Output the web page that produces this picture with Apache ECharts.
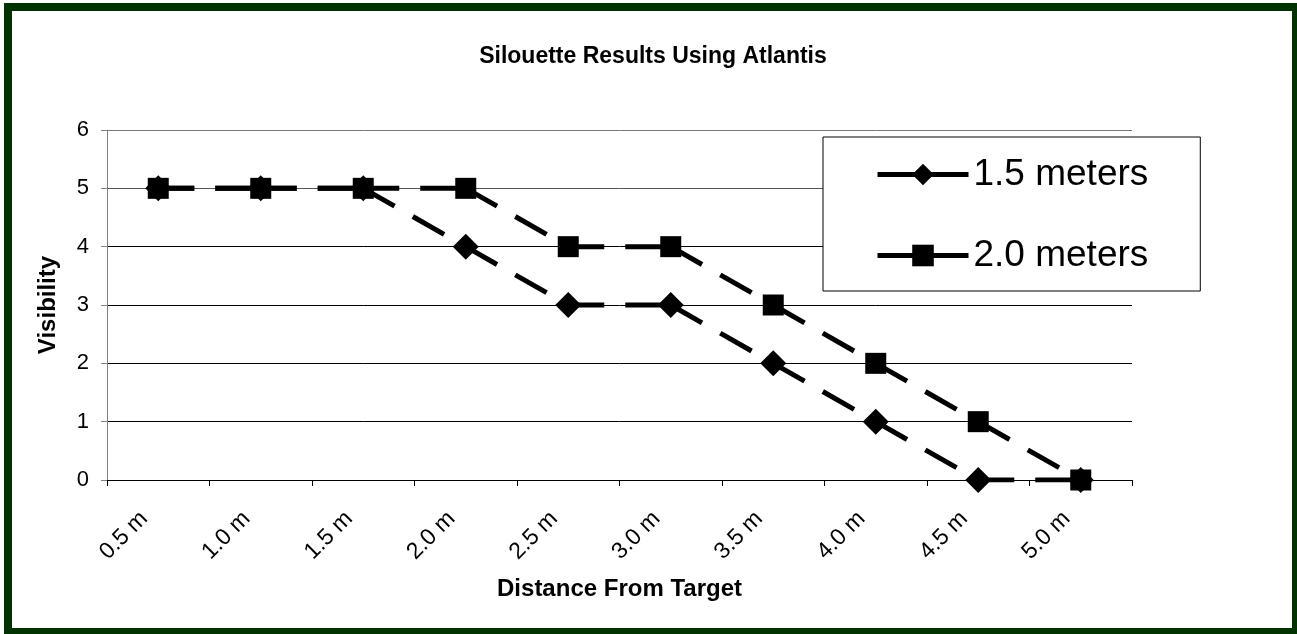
<!DOCTYPE html>
<html>
<head>
<meta charset="utf-8">
<script src="https://cdn.jsdelivr.net/npm/echarts@6/dist/echarts.min.js"></script>
<style>
  html, body { margin: 0; padding: 0; background: #fff; }
  #chart { position: absolute; left: 0; top: 0; width: 1297px; height: 634px; }
  #frame {
    position: absolute; left: 4px; top: 3px; width: 1293px; height: 631px;
    box-sizing: border-box; pointer-events: none;
    border-style: solid; border-color: #003300;
    border-width: 8px 5px 6px 8px;
  }
</style>
</head>
<body>
<div id="chart"></div>
<div id="frame"></div>
<script>
// Distances from target (category axis)
const distances = ['0.5 m', '1.0 m', '1.5 m', '2.0 m', '2.5 m', '3.0 m', '3.5 m', '4.0 m', '4.5 m', '5.0 m'];
// Visibility scores for each silhouette height
const visibility15 = [5, 5, 5, 4, 3, 3, 2, 1, 0, 0];
const visibility20 = [5, 5, 5, 5, 4, 4, 3, 2, 1, 0];
const seriesNames = ['1.5 meters', '2.0 meters'];
const seriesSymbols = ['diamond', 'rect'];
const seriesSymbolSizes = [26, 21];

const FONT = 'Liberation Sans, Arial, sans-serif';

// Each line segment is its own series so the dash pattern restarts at every point.
function segmentSeries(values, tag) {
  const out = [];
  for (let i = 0; i < values.length - 1; i++) {
    const data = values.map((v, j) => (j === i || j === i + 1) ? v : null);
    out.push({
      type: 'line',
      name: tag + '-seg' + i,
      data: data,
      symbol: 'none',
      connectNulls: false,
      silent: true,
      z: 2,
      lineStyle: { color: '#000', width: 5, type: [36, 21], cap: 'butt' }
    });
  }
  return out;
}

function markerSeries(values, idx) {
  return {
    type: 'line',
    name: seriesNames[idx],
    data: values,
    symbol: seriesSymbols[idx],
    symbolSize: seriesSymbolSizes[idx],
    z: 3,
    itemStyle: { color: '#000', borderWidth: 0 },
    lineStyle: { color: '#000', width: 5, opacity: 0 }
  };
}

const chart = echarts.init(document.getElementById('chart'), null, { renderer: 'canvas' });

chart.setOption({
  animation: false,
  backgroundColor: '#fff',
  title: {
    text: 'Silouette Results Using Atlantis',
    left: 653,
    top: 45,
    padding: 0,
    textAlign: 'center',
    textStyle: { fontFamily: FONT, fontWeight: 'bold', fontSize: 23, color: '#000' }
  },
  legend: {
    orient: 'vertical',
    left: 823,
    top: 137,
    data: seriesNames,
    itemWidth: 91,
    itemHeight: 27,
    itemGap: 44,
    padding: [19, 52, 17, 52],
    borderColor: '#000',
    borderWidth: 1,
    backgroundColor: '#fff',
    selectedMode: false,
    lineStyle: { opacity: 1, width: 5, type: 'solid', color: '#000' },
    textStyle: { fontFamily: FONT, fontSize: 37, lineHeight: 37, color: '#000' }
  },
  grid: { left: 107, top: 130, width: 1025, height: 350, containLabel: false },
  xAxis: {
    type: 'category',
    data: distances,
    boundaryGap: true,
    name: 'Distance From Target',
    nameLocation: 'middle',
    nameGap: 97,
    nameTextStyle: { fontFamily: FONT, fontWeight: 'bold', fontSize: 24, color: '#000' },
    axisLine: { lineStyle: { color: '#000', width: 1 } },
    axisTick: { show: true, length: 6, alignWithLabel: false, lineStyle: { color: '#000' } },
    axisLabel: {
      rotate: 45,
      margin: 21,
      padding: [0, 20, 0, 0],
      fontFamily: FONT,
      fontSize: 23,
      color: '#000'
    },
    splitLine: { show: false }
  },
  yAxis: {
    type: 'value',
    min: 0,
    max: 6,
    interval: 1,
    name: 'Visibility',
    nameLocation: 'middle',
    nameRotate: 90,
    nameGap: 47,
    nameTextStyle: { fontFamily: FONT, fontWeight: 'bold', fontSize: 24, color: '#000' },
    axisLine: { show: true, lineStyle: { color: '#808080', width: 1 } },
    axisTick: { show: true, length: 6, lineStyle: { color: '#808080' } },
    axisLabel: { margin: 18, fontFamily: FONT, fontSize: 22, color: '#000' },
    splitLine: { show: true, lineStyle: { color: ['#000', '#000', '#000', '#000', '#000', '#555', '#777'], width: 1 } }
  },
  series: [
    ...segmentSeries(visibility15, 'a'),
    ...segmentSeries(visibility20, 'b'),
    markerSeries(visibility15, 0),
    markerSeries(visibility20, 1)
  ]
});
</script>
</body>
</html>
